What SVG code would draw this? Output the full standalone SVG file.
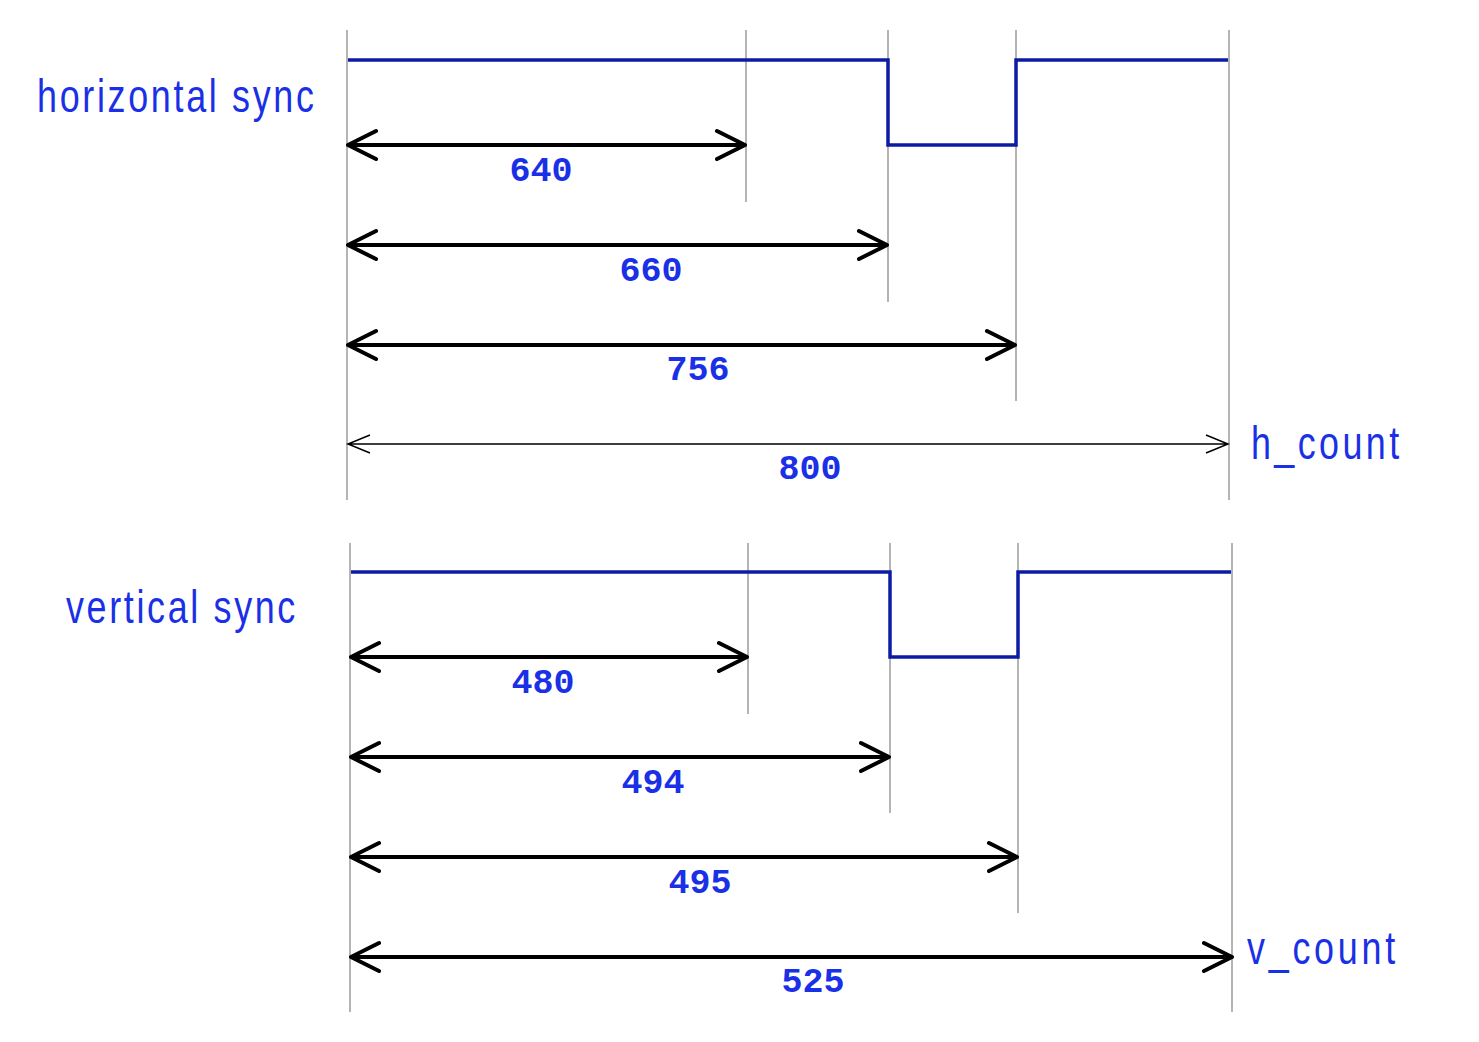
<svg xmlns="http://www.w3.org/2000/svg" width="1479" height="1042" viewBox="0 0 1479 1042">
<style>
.grid{stroke:#b4b4b4;stroke-width:2;fill:none}
.sig{stroke:#0b1ca3;stroke-width:3.5;fill:none;stroke-linejoin:miter}
.arr{stroke:#000;stroke-width:4;fill:none;stroke-linecap:round;stroke-linejoin:round}
.arrt{stroke:#000;stroke-width:1.5;fill:none}
.lbl{font-family:"Liberation Sans",Arial,sans-serif;font-size:46px;fill:#1a30e6}
.num{font-family:"Liberation Mono","Courier New",monospace;font-weight:bold;font-size:35px;fill:#1a30e6;text-anchor:middle}
</style>
<rect width="1479" height="1042" fill="#fff"/>
<g id="horizontal">
<g class="grid">
<line x1="347" y1="30" x2="347" y2="500"/>
<line x1="746" y1="30" x2="746" y2="202"/>
<line x1="888" y1="30" x2="888" y2="302"/>
<line x1="1016" y1="30" x2="1016" y2="401"/>
<line x1="1229" y1="30" x2="1229" y2="500"/>
</g>
<polyline class="sig" points="348,60 888,60 888,145 1016,145 1016,60 1228,60"/>
<text class="lbl" transform="translate(37,112) scale(0.78,1)" textLength="355" lengthAdjust="spacing">horizontal sync</text>
<text class="lbl" transform="translate(1251,459) scale(0.78,1)" textLength="190" lengthAdjust="spacing">h_count</text>
</g>
<g id="vertical">
<g class="grid">
<line x1="350" y1="543" x2="350" y2="1012"/>
<line x1="748" y1="543" x2="748" y2="714"/>
<line x1="890" y1="543" x2="890" y2="813"/>
<line x1="1018" y1="543" x2="1018" y2="913"/>
<line x1="1232" y1="543" x2="1232" y2="1012"/>
</g>
<polyline class="sig" points="351,572 890,572 890,657 1018,657 1018,572 1231,572"/>
<text class="lbl" transform="translate(66,623) scale(0.78,1)" textLength="294" lengthAdjust="spacing">vertical sync</text>
<text class="lbl" transform="translate(1247,964) scale(0.78,1)" textLength="190" lengthAdjust="spacing">v_count</text>
</g>
<g id="connectors">
<path class="arr" d="M348,145 H745 M376,131 L348,145 L376,159 M717,131 L745,145 L717,159"/>
<path class="arr" d="M348,245 H887 M376,231 L348,245 L376,259 M859,231 L887,245 L859,259"/>
<path class="arr" d="M348,345 H1015 M376,331 L348,345 L376,359 M987,331 L1015,345 L987,359"/>
<path class="arrt" d="M348,444 H1228 M370,435 L348,444 L370,453 M1206,435 L1228,444 L1206,453"/>
<path class="arr" d="M351,657 H747 M379,643 L351,657 L379,671 M719,643 L747,657 L719,671"/>
<path class="arr" d="M351,757 H889 M379,743 L351,757 L379,771 M861,743 L889,757 L861,771"/>
<path class="arr" d="M351,857 H1017 M379,843 L351,857 L379,871 M989,843 L1017,857 L989,871"/>
<path class="arr" d="M351,957 H1232 M379,943 L351,957 L379,971 M1204,943 L1232,957 L1204,971"/>
</g>
<g id="labels">
<text class="num" x="541" y="181">640</text>
<text class="num" x="651" y="281">660</text>
<text class="num" x="698" y="380">756</text>
<text class="num" x="810" y="479">800</text>
<text class="num" x="543" y="693">480</text>
<text class="num" x="653" y="793">494</text>
<text class="num" x="700" y="893">495</text>
<text class="num" x="813" y="992">525</text>
</g>
</svg>
